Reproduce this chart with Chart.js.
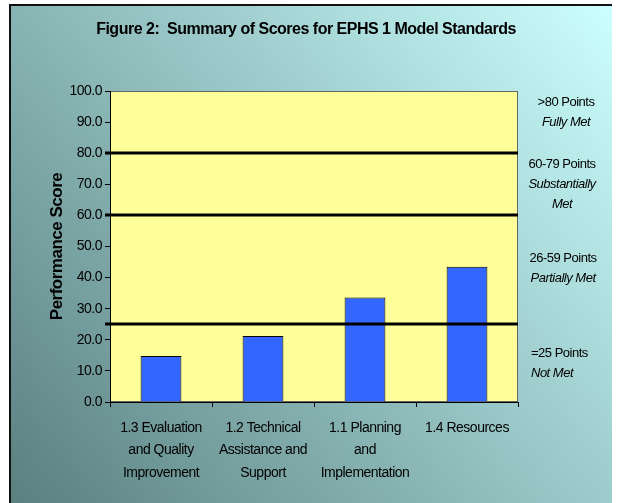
<!DOCTYPE html>
<html>
<head>
<meta charset="utf-8">
<script src="https://cdn.jsdelivr.net/npm/chart.js@4.4.1/dist/chart.umd.min.js"></script>
<style>
  html, body { margin: 0; padding: 0; background: #fff; overflow: hidden; }
  #wrap { width: 619px; height: 503px; }
</style>
</head>
<body>
<div id="wrap"><canvas id="chart" width="619" height="503"></canvas></div>
<script>
const chartTitle = "Figure 2:  Summary of Scores for EPHS 1 Model Standards";
const categories = [
  ["1.3 Evaluation", "and Quality", "Improvement"],
  ["1.2 Technical", "Assistance and", "Support"],
  ["1.1 Planning", "and", "Implementation"],
  ["1.4 Resources"],
];
const scores = [14.8, 21.2, 33.6, 43.5];
const thresholds = [80, 60, 25];
const bandLabels = [
  [">80 Points", "Fully Met"],
  ["60-79 Points", "Substantially", "Met"],
  ["26-59 Points", "Partially Met"],
  ["=25 Points", "Not Met"],
];

const FONT = "'Liberation Sans', Arial, sans-serif";

// where each band label block sits (first line centre y, x, alignment)
const bandPos = [
  { x: 566, y: 102, align: "center" },
  { x: 562, y: 164, align: "center" },
  { x: 563, y: 258, align: "center" },
  { x: 531, y: 353, align: "left" },
];

const decor = {
  id: "decor",
  beforeDraw(chart) {
    const { ctx, chartArea: a } = chart;
    ctx.save();
    const g = ctx.createLinearGradient(9, 503, 612, 4);
    g.addColorStop(0, "#5a8080");
    g.addColorStop(1, "#ccffff");
    ctx.fillStyle = g;
    ctx.fillRect(9, 4, 603, 499);
    ctx.fillStyle = "#111";
    ctx.fillRect(9, 4, 2, 499);
    ctx.fillRect(9, 4, 603, 2);

    ctx.fillStyle = "#ffff99";
    ctx.fillRect(a.left, a.top, a.right - a.left, a.bottom - a.top);
    ctx.strokeStyle = "#666";
    ctx.lineWidth = 1;
    ctx.strokeRect(a.left + 0.5, a.top + 0.5, a.right - a.left - 1, a.bottom - a.top - 1);

    ctx.fillStyle = "#000";
    ctx.font = "bold 16px " + FONT;
    ctx.letterSpacing = "-0.5px";
    ctx.textAlign = "center";
    ctx.textBaseline = "middle";
    ctx.fillText(chartTitle, 306, 30);
    ctx.restore();
    ctx.letterSpacing = "-0.5px";
  },
  afterDatasetsDraw(chart) {
    const { ctx, chartArea: a } = chart;
    const y = chart.scales.y;
    ctx.save();
    ctx.fillStyle = "#000";
    thresholds.forEach((v) => {
      const py = Math.round(y.getPixelForValue(v));
      ctx.fillRect(a.left - 5, py - 1.5, a.right - a.left + 5, 3);
    });

    ctx.letterSpacing = "-0.5px";
    ctx.textBaseline = "middle";
    bandLabels.forEach((lines, i) => {
      const p = bandPos[i];
      ctx.textAlign = p.align;
      lines.forEach((t, j) => {
        ctx.font = (j === 0 ? "" : "italic ") + "13px " + FONT;
        ctx.fillText(t, p.x, p.y + j * 20);
      });
    });
    ctx.restore();
  },
};

new Chart(document.getElementById("chart"), {
  type: "bar",
  data: {
    labels: categories,
    datasets: [{
      data: scores,
      backgroundColor: "#3366ff",
      borderColor: "#000",
      borderWidth: 1,
      barPercentage: 0.4,
      categoryPercentage: 1,
    }],
  },
  options: {
    responsive: false,
    animation: false,
    devicePixelRatio: 1,
    layout: { padding: { top: 91, right: 101, left: 0, bottom: 0 } },
    plugins: { legend: { display: false }, tooltip: { enabled: false } },
    scales: {
      x: {
        afterFit: (s) => { s.height = 101; },
        grid: { drawOnChartArea: false, tickLength: 5, color: "#000", lineWidth: 1 },
        border: { color: "#000", width: 1 },
        ticks: {
          color: "#000",
          padding: 10,
          maxRotation: 0,
          autoSkip: false,
          font: { family: FONT, size: 14, lineHeight: 1.6 },
        },
      },
      y: {
        min: 0,
        max: 100,
        afterFit: (s) => { s.width = 110; },
        grid: { drawOnChartArea: false, tickLength: 5, color: "#000", lineWidth: 1 },
        border: { color: "#000", width: 1 },
        ticks: {
          stepSize: 10,
          color: "#000",
          padding: 3,
          callback: (v) => Number(v).toFixed(1),
          font: { family: FONT, size: 14 },
        },
        title: {
          display: true,
          text: "Performance Score",
          color: "#000",
          padding: { top: 47, bottom: 0 },
          font: { family: FONT, size: 17, weight: "bold" },
        },
      },
    },
  },
  plugins: [decor],
});
</script>
</body>
</html>
